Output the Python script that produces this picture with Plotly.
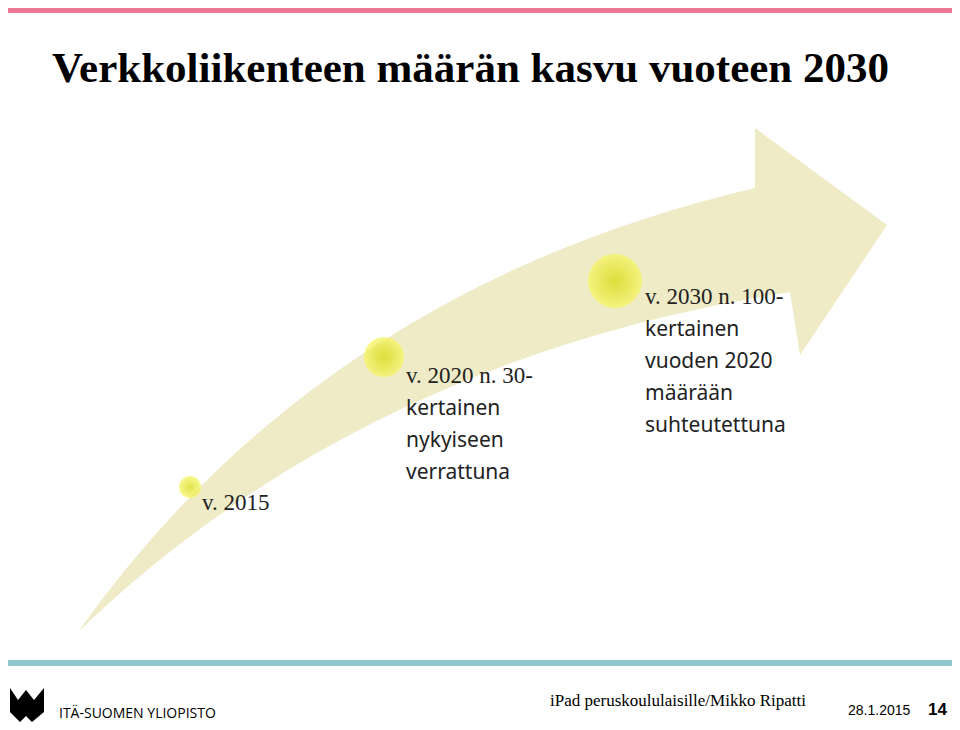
import plotly.graph_objects as go

# milestones on the arrow
years = ["v. 2015", "v. 2020", "v. 2030"]
bubble_x = [190, 384, 615]
bubble_y = [487, 357, 281]
bubble_size = [22, 40, 54]

head_lines = ["v. 2015", "v. 2020 n. 30-", "v. 2030 n. 100-"]
body_lines = [[], ["kertainen", "nykyiseen", "verrattuna"],
              ["kertainen", "vuoden 2020", "määrään", "suhteutettuna"]]
text_x = [200, 404, 643]
text_y = [502, 375, 296]

fig = go.Figure()

# curved arrow
arrow = ("M 78,632 Q 320,290 755,188 L 755,128 L 887,225 L 800,355 L 790,292 "
         "Q 360,360 78,632 Z")
fig.add_shape(type="path", path=arrow, fillcolor="#eeebc6", line=dict(width=0), layer="below")

fig.add_trace(go.Scatter(
    x=bubble_x, y=bubble_y, mode="markers", text=years, hoverinfo="text",
    marker=dict(size=bubble_size, color="#f6f660",
                gradient=dict(type="radial", color="#d6d600"), line=dict(width=0)),
    showlegend=False))

for i in range(3):
    fig.add_annotation(x=text_x[i], y=text_y[i], text=head_lines[i], showarrow=False,
                       xanchor="left", yanchor="middle",
                       font=dict(family="Liberation Serif", size=23, color="#222"))
    for j, line in enumerate(body_lines[i]):
        fig.add_annotation(x=text_x[i], y=text_y[i] + 32 * (j + 1), text=line, showarrow=False,
                           xanchor="left", yanchor="middle",
                           font=dict(family="Noto Sans", size=21, color="#222"))

# slide decorations
fig.add_shape(type="rect", x0=8, x1=952, y0=8, y1=13, fillcolor="#ec7894", line=dict(width=0))
fig.add_shape(type="rect", x0=8, x1=952, y0=660, y1=666, fillcolor="#92c6d0", line=dict(width=0))
fig.add_shape(type="path", path="M 10,688 L 18,700 L 26,690 L 34,700 L 44,688 L 44,712 L 32,722 L 26,716 L 20,722 L 10,712 Z",
              fillcolor="black", line=dict(width=0))

fig.add_annotation(x=50, y=67, text="<b>Verkkoliikenteen määrän kasvu vuoteen 2030</b>", showarrow=False,
                   xanchor="left", yanchor="middle",
                   font=dict(family="Liberation Serif", size=43, color="black"))
fig.add_annotation(x=57, y=712, text="ITÄ-SUOMEN YLIOPISTO", showarrow=False,
                   xanchor="left", yanchor="middle",
                   font=dict(family="Open Sans", size=14, color="black"))
fig.add_annotation(x=548, y=700, text="iPad peruskoululaisille/Mikko Ripatti", showarrow=False,
                   xanchor="left", yanchor="middle",
                   font=dict(family="Liberation Serif", size=17, color="black"))
fig.add_annotation(x=846, y=710, text="28.1.2015", showarrow=False,
                   xanchor="left", yanchor="middle",
                   font=dict(family="Liberation Sans Narrow, Liberation Sans", size=14, color="black"))
fig.add_annotation(x=926, y=709, text="<b>14</b>", showarrow=False,
                   xanchor="left", yanchor="middle",
                   font=dict(family="Liberation Sans", size=17, color="black"))

# the page body has an 8px margin, so the figure sits at (8, 8)
fig.update_layout(
    width=944, height=714, margin=dict(l=0, r=0, t=0, b=0),
    plot_bgcolor="white", paper_bgcolor="white",
    xaxis=dict(range=[8, 952], visible=False, fixedrange=True),
    yaxis=dict(range=[722, 8], visible=False, fixedrange=True),
)

fig.write_html("out.html")
